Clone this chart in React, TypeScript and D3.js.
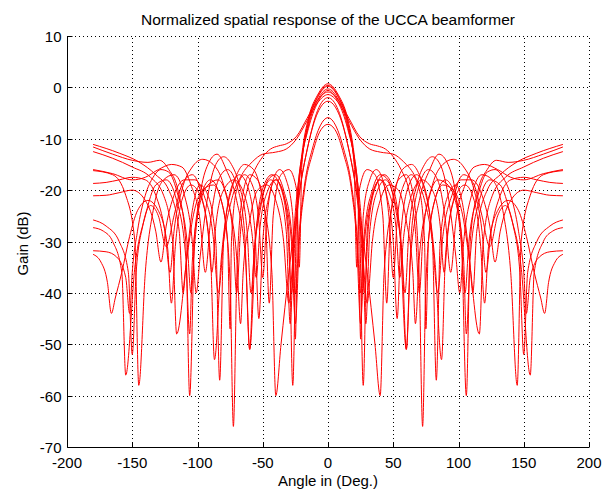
import * as d3 from "d3";
import { useEffect, useRef } from "react";

// x/y tick values
const xTicks = [-200, -150, -100, -50, 0, 50, 100, 150, 200];
const yTicks = [-70, -60, -50, -40, -30, -20, -10, 0, 10];

// half patterns (0..180 deg); the response is symmetric
const curve1 = [[0,0.7],[8,-1.5],[15,-6],[20,-13],[24,-24],[27,-58],[30,-28],[35,-20],[40,-18],[45,-21],[50,-30],[53,-45],[56,-28],[62,-19],[68,-17],[74,-20],[80,-30],[83,-57],[86,-30],[92,-21],[98,-19],[104,-24],[109,-35],[111,-40],[114,-28],[122,-20],[132,-17],[145,-14.5],[160,-12.8],[180,-11.1]];
const curve2 = [[0,0.4],[8,-1.8],[15,-6.5],[20,-14],[23,-22],[25,-49],[27,-25],[32,-18],[37,-16],[42,-18],[47,-26],[50,-37],[53,-26],[58,-19],[64,-17],[70,-20],[74,-30],[75,-47],[77,-30],[83,-21],[90,-18],[96,-20],[102,-28],[106,-60],[109,-30],[115,-20],[122,-16],[129,-14.2],[138,-14.6],[150,-14.2],[165,-13],[180,-11.6]];
const curve3 = [[0,0.2],[8,-2],[15,-7],[20,-15],[22,-35],[24,-20],[30,-16],[36,-17],[42,-25],[45,-42],[48,-25],[54,-18],[60,-17],[66,-22],[70,-38],[72.5,-66],[75,-38],[80,-24],[88,-19],[96,-20],[104,-26],[108,-33],[116,-48],[119,-30],[126,-21],[136,-17.5],[150,-15.5],[165,-13.8],[180,-12.5]];
const curve4 = [[0,-0.3],[8,-2.5],[15,-7.5],[21,-16],[25,-28],[28,-40],[31,-27],[37,-19],[43,-17],[49,-19],[55,-28],[60,-51],[64,-28],[70,-19],[77,-16],[84,-18],[90,-26],[94,-36],[98,-26],[105,-19],[112,-15.5],[120,-15],[130,-16],[140,-17.5],[150,-18],[165,-16.8],[180,-16]];
const curve5 = [[0,-0.6],[8,-3],[15,-8],[22,-17],[26,-28],[29,-46],[32,-28],[38,-20],[44,-18],[50,-21],[56,-30],[59,-40],[62,-28],[68,-19],[74,-15],[80,-13.5],[86,-15],[92,-21],[98,-33],[101,-40],[104,-30],[110,-21],[118,-17],[126,-18],[134,-24],[140,-36],[145,-58],[148,-30],[155,-21],[165,-17],[180,-16.2]];
const curve6 = [[0,-0.9],[8,-2.5],[16,-6],[24,-9.5],[32,-11],[38,-11.4],[44,-12],[50,-13.5],[56,-16],[62,-20],[67,-28],[70,-40],[73,-28],[80,-19],[88,-15],[96,-14],[104,-15.5],[112,-20],[118,-28],[121,-36],[125,-28],[132,-21],[140,-18],[150,-17.5],[160,-18],[170,-18.5],[180,-18.7]];
const curve7 = [[0,-1.4],[8,-3],[16,-6.5],[24,-10],[32,-12],[40,-12.6],[50,-13],[58,-14.5],[66,-17],[74,-22],[80,-30],[84,-40],[88,-29],[95,-21],[102,-18],[110,-18],[118,-21],[124,-27],[128,-34],[132,-28],[140,-22],[150,-20],[160,-20.5],[170,-21],[180,-21.1]];
const curve8 = [[0,-2],[8,-4.5],[15,-11],[23,-22],[30,-36],[36,-50],[40,-60],[43,-36],[50,-22],[57,-16],[64,-15],[70,-17],[77,-23],[82,-34],[87,-53],[90,-33],[97,-21],[104,-17],[112,-19],[118,-25],[124,-31],[130,-25],[136,-23],[142,-27],[147,-36],[150,-52],[153,-36],[160,-30],[170,-27],[180,-25.8]];
const curve9 = [[0,-2.7],[8,-5],[15,-11],[22,-21],[26,-30],[30,-42],[34,-30],[40,-22],[47,-19],[54,-20],[60,-26],[65,-36],[67,-46],[70,-33],[77,-22],[84,-18],[92,-19],[100,-25],[104,-34],[106,-48],[109,-33],[116,-22],[124,-18],[132,-19],[140,-25],[148,-35],[155,-56],[158,-36],[165,-30],[172,-28],[180,-27.3]];
const curve10 = [[0,-5.9],[6,-7.5],[12,-12],[18,-19],[22,-28],[25,-40],[28,-28],[34,-20],[40,-17],[46,-18],[52,-24],[57,-34],[60,-51],[63,-34],[70,-22],[78,-16],[85,-13],[92,-15],[98,-21],[102,-30],[105,-40],[108,-30],[115,-21],[122,-16.5],[128,-16],[134,-17.5],[140,-21],[146,-28],[150,-36],[152,-44],[155,-37],[162,-33],[170,-32],[180,-31.8]];
const curve11 = [[0,-7.2],[6,-8.5],[12,-13],[18,-20],[22,-30],[25,-46],[28,-30],[34,-21],[40,-18],[46,-20],[52,-27],[55,-37],[58,-29],[64,-21],[72,-18],[80,-20],[86,-27],[89,-36],[92,-28],[98,-21],[105,-19],[112,-22],[117,-31],[120,-42],[123,-31],[130,-24],[138,-22],[146,-24],[152,-29],[158,-36],[163,-41],[166,-44],[169,-38],[174,-34],[180,-32.5]];

const curves = [curve1, curve2, curve3, curve4, curve5, curve6, curve7, curve8, curve9, curve10, curve11];

const title = "Normalized spatial response of the UCCA beamformer";
const xLabel = "Angle in (Deg.)";
const yLabel = "Gain (dB)";

const W = 610;
const H = 491;
const margin = { left: 67, right: 21, top: 36, bottom: 44 };

const draw = (svgEl: SVGSVGElement) => {
    const svg = d3.select(svgEl);
    svg.selectAll("*").remove();
    svg.attr("width", W).attr("height", H).style("font-family", "'Liberation Sans', Arial, sans-serif");

    const x = d3.scaleLinear().domain([-200, 200]).range([margin.left, W - margin.right]);
    const y = d3.scaleLinear().domain([-70, 10]).range([H - margin.bottom, margin.top]);

    svg.append("rect").attr("width", W).attr("height", H).attr("fill", "#fff");

    // dotted grid
    const grid = svg.append("g").attr("stroke", "#000").attr("stroke-width", 1).attr("stroke-dasharray", "1,3");
    grid.selectAll("line.gx")
        .data(xTicks.slice(1))
        .join("line")
        .attr("x1", (d) => Math.round(x(d)) + 0.5)
        .attr("x2", (d) => Math.round(x(d)) + 0.5)
        .attr("y1", y(-70))
        .attr("y2", y(10));
    grid.selectAll("line.gy")
        .data(yTicks.slice(1))
        .join("line")
        .attr("class", "gy")
        .attr("y1", (d) => Math.round(y(d)) + 0.5)
        .attr("y2", (d) => Math.round(y(d)) + 0.5)
        .attr("x1", x(-200))
        .attr("x2", x(200));

    // curves, mirrored about 0 deg
    const line = d3
        .line<number[]>()
        .x((d) => x(d[0]))
        .y((d) => y(d[1]))
        .curve(d3.curveMonotoneX);

    const full = curves.map((c) => [...c.slice(1).map((p) => [-p[0], p[1]]).reverse(), ...c]);
    svg.append("g")
        .selectAll("path")
        .data(full)
        .join("path")
        .attr("d", line)
        .attr("fill", "none")
        .attr("stroke", "#ff0000")
        .attr("stroke-width", 1);

    // axes (inward ticks, no box)
    const axes = svg.append("g").attr("stroke", "#000").attr("stroke-width", 1);
    const x0 = Math.round(x(-200)) + 0.5;
    const y0 = Math.round(y(-70)) + 0.5;
    axes.append("line").attr("x1", x0).attr("x2", x0).attr("y1", y(10)).attr("y2", y0);
    axes.append("line").attr("x1", x0).attr("x2", x(200)).attr("y1", y0).attr("y2", y0);
    axes.selectAll("line.tx")
        .data(xTicks)
        .join("line")
        .attr("class", "tx")
        .attr("x1", (d) => Math.round(x(d)) + 0.5)
        .attr("x2", (d) => Math.round(x(d)) + 0.5)
        .attr("y1", y0)
        .attr("y2", y0 - 5);
    axes.selectAll("line.ty")
        .data(yTicks)
        .join("line")
        .attr("class", "ty")
        .attr("y1", (d) => Math.round(y(d)) + 0.5)
        .attr("y2", (d) => Math.round(y(d)) + 0.5)
        .attr("x1", x0)
        .attr("x2", x0 + 5);

    svg.append("g")
        .attr("font-size", 15)
        .attr("text-anchor", "middle")
        .selectAll("text")
        .data(xTicks)
        .join("text")
        .attr("x", (d) => x(d))
        .attr("y", y0 + 20)
        .text((d) => d);

    svg.append("g")
        .attr("font-size", 15)
        .attr("text-anchor", "end")
        .selectAll("text")
        .data(yTicks)
        .join("text")
        .attr("x", x0 - 6)
        .attr("y", (d) => y(d) + 6)
        .text((d) => d);

    svg.append("text")
        .attr("x", (x(-200) + x(200)) / 2)
        .attr("y", 25)
        .attr("text-anchor", "middle")
        .attr("font-size", 15.5)
        .text(title);

    svg.append("text")
        .attr("x", (x(-200) + x(200)) / 2)
        .attr("y", 486)
        .attr("text-anchor", "middle")
        .attr("font-size", 15)
        .text(xLabel);

    svg.append("text")
        .attr("transform", `translate(28,${(y(-70) + y(10)) / 2 + 2}) rotate(-90)`)
        .attr("text-anchor", "middle")
        .attr("font-size", 15)
        .text(yLabel);
};

export default function App() {
    const svgRef = useRef<SVGSVGElement>(null);
    useEffect(() => {
        if (svgRef.current) draw(svgRef.current);
    }, []);
    return <svg ref={svgRef} style={{ display: "block", position: "absolute", left: 0, top: 0 }}></svg>;
}
